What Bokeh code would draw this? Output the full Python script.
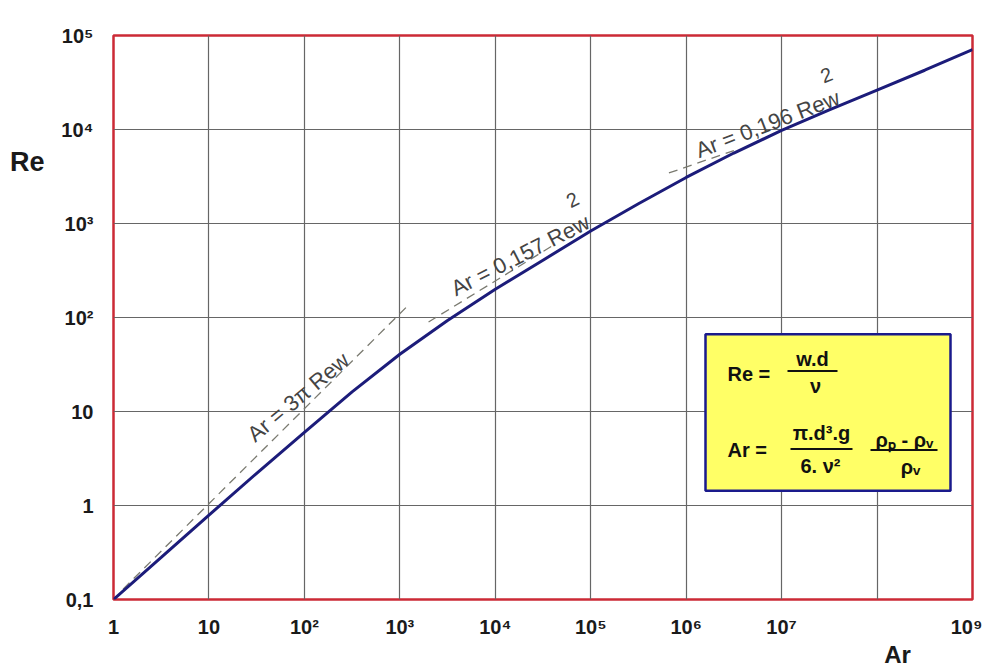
from bokeh.plotting import figure
from bokeh.models import Range1d, FixedTicker, Label, LogAxis
from bokeh.embed import file_html
from bokeh.resources import INLINE

# ---------------- data ----------------
ar_curve = [1, 3.16, 10, 31.6, 100, 316, 1e3, 3160, 1e4, 31600, 1e5,
            3.16e5, 1e6, 3.16e6, 1e7, 3.16e7, 1e8, 3.16e8, 1e9]
re_curve = [0.1, 0.28, 0.79, 2.2, 6.0, 16.2, 40.7, 93, 200, 407, 832,
            1620, 3090, 5620, 9770, 16200, 26300, 42700, 70800]

stokes_ar = [1.26, 1245]
stokes_re = [0.129, 137]
mid_ar = [2000, 40000]
mid_re = [89.5, 583]
newton_ar = [6.6e5, 3.16e6]
newton_re = [3450, 5970]

x_ticks = [1, 10, 1e2, 1e3, 1e4, 1e5, 1e6, 1e7, 1e8, 1e9]
x_tick_labels = ["1", "10", "10²", "10³", "10⁴", "10⁵", "10⁶", "10⁷", "", "10⁹"]
y_ticks = [0.1, 1, 10, 1e2, 1e3, 1e4, 1e5]
y_tick_labels = ["0,1", "1", "10", "10²", "10³", "10⁴", "10⁵"]

FONT = "Liberation Sans"

# frame geometry (canvas pixels), used only to place annotations
W, H = 982, 670
FL, FR, FT, FB = 113, 972, 35, 605
XD = (FR - FL) / 9.0
YD = (FB - FT) / 6.0


def pos(xp, yp):
    return 10 ** ((xp - FL) / XD), 10 ** (-1 + (FB - yp) / YD)


p = figure(width=W, height=H, x_axis_type="log", y_axis_type="log",
           x_range=Range1d(1, 1e9), y_range=Range1d(0.1, 1e5),
           output_backend="svg", toolbar_location=None,
           min_border_left=FL, min_border_top=FT,
           min_border_right=W - FR, min_border_bottom=H - FB)

p.background_fill_color = "white"
p.border_fill_color = "white"
p.outline_line_color = "#cc2a36"
p.outline_line_width = 2.5


def style_axis(ax, size, standoff):
    ax.axis_line_color = None
    ax.major_tick_line_color = None
    ax.minor_tick_line_color = None
    ax.major_tick_out = 0
    ax.major_tick_in = 0
    ax.minor_tick_out = 0
    ax.minor_tick_in = 0
    ax.major_label_text_font = FONT
    ax.major_label_text_font_style = "bold"
    ax.major_label_text_font_size = size
    ax.major_label_text_color = "#1a1a1a"
    ax.major_label_standoff = standoff


for ax, ticks, labels in ((p.xaxis[0], x_ticks, x_tick_labels), (p.yaxis[0], y_ticks, y_tick_labels)):
    ax.ticker = FixedTicker(ticks=ticks, minor_ticks=[])
    ax.major_label_overrides = {t: l for t, l in zip(ticks, labels)}

style_axis(p.xaxis[0], "20px", 16)
style_axis(p.yaxis[0], "20px", 20)

# axis titles as extra (tick-less) axes
re_pos = pos(0, 163)[1]
re_axis = LogAxis(ticker=FixedTicker(ticks=[re_pos], minor_ticks=[]),
                  major_label_overrides={re_pos: "Re"})
style_axis(re_axis, "27px", 14)
p.add_layout(re_axis, "left")

ar_pos = pos(897, 0)[0]
ar_axis = LogAxis(ticker=FixedTicker(ticks=[ar_pos], minor_ticks=[]),
                  major_label_overrides={ar_pos: "Ar"})
style_axis(ar_axis, "24px", 0)
p.add_layout(ar_axis, "below")

for g in (p.xgrid[0], p.ygrid[0]):
    g.grid_line_color = "#666666"
    g.grid_line_width = 1.2
p.xgrid[0].ticker = FixedTicker(ticks=x_ticks, minor_ticks=[])
p.ygrid[0].ticker = FixedTicker(ticks=y_ticks, minor_ticks=[])

# asymptote lines
dash_kw = dict(line_color="#7a7a70", line_width=1.3, line_dash="9 6")
p.line(stokes_ar, stokes_re, **dash_kw)
p.line(mid_ar, mid_re, **dash_kw)
p.line(newton_ar, newton_re, **dash_kw)

# main curve
p.line(ar_curve, re_curve, line_color="#1c1c7a", line_width=3)

# curve labels
lab_kw = dict(text_font=FONT, text_font_size="22px", text_color="#444444",
              text_align="left", text_baseline="alphabetic")
sup_kw = dict(text_font=FONT, text_font_size="20px", text_color="#444444",
              text_align="center", text_baseline="middle")
x, y = pos(250, 441)
p.add_layout(Label(x=x, y=y, text="Ar = 3π  Rew", angle=40, angle_units="deg", **lab_kw))
x, y = pos(452, 292)
p.add_layout(Label(x=x, y=y, text="Ar = 0,157 Rew", angle=27, angle_units="deg", **lab_kw))
x, y = pos(572, 201)
p.add_layout(Label(x=x, y=y, text="2", angle=27, angle_units="deg", **sup_kw))
x, y = pos(696, 152)
p.add_layout(Label(x=x, y=y, text="Ar = 0,196 Rew", angle=21, angle_units="deg", **lab_kw))
x, y = pos(826, 75)
p.add_layout(Label(x=x, y=y, text="2", angle=21, angle_units="deg", **sup_kw))

# formula box
bl, bt = pos(705, 337)
br, bb = pos(950, 495)
p.quad(left=[bl], right=[br], top=[bt], bottom=[bb], fill_color="#ffff66",
       line_color="#1a1a8c", line_width=2.5)


def ftext(xp, yp, t, align="center", size="20px"):
    x, y = pos(xp, yp)
    p.add_layout(Label(x=x, y=y, text=t, text_align=align, text_baseline="middle",
                       text_font=FONT, text_font_size=size, text_font_style="bold",
                       text_color="#111111"))


ftext(727, 377, "Re =", align="left")
ftext(812, 362, "w.d")
ftext(815, 389, "ν")
ftext(727, 454, "Ar =", align="left")
ftext(821, 437, "π.d³.g")
ftext(820, 470, "6. ν²")
ftext(904, 444, "ρₚ - ρᵥ")
ftext(910, 471, "ρᵥ")

seg_x0, seg_y0, seg_x1, seg_y1 = [], [], [], []
for a, b, yy in ((787, 837, 374), (790, 852, 453), (870, 937, 454)):
    x0, y0 = pos(a, yy)
    x1, _ = pos(b, yy)
    seg_x0.append(x0); seg_y0.append(y0); seg_x1.append(x1); seg_y1.append(y0)
p.segment(seg_x0, seg_y0, seg_x1, seg_y1, line_color="#111111", line_width=2)

open("out.html", "w").write(file_html(p, INLINE))
